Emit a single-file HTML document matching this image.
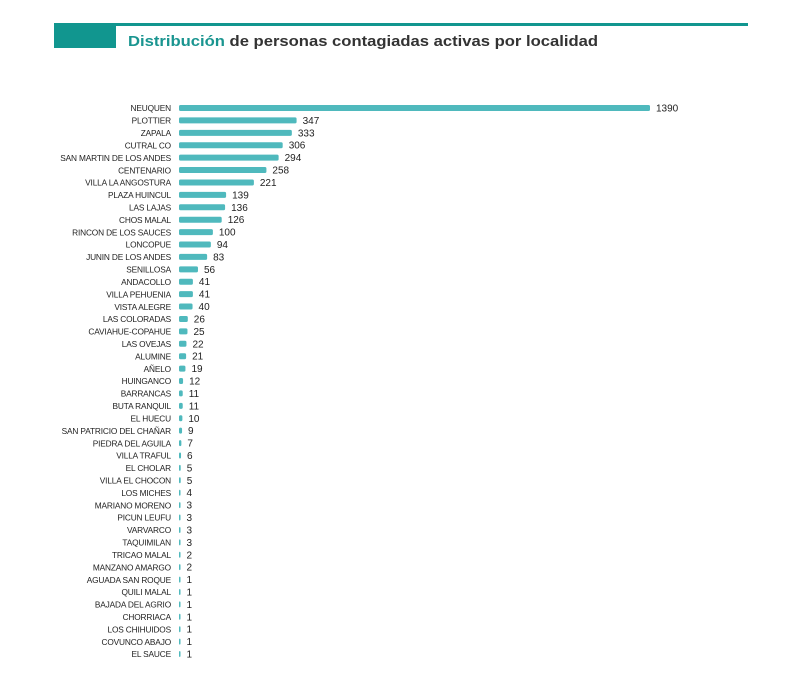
<!DOCTYPE html>
<html><head><meta charset="utf-8"><style>
body{margin:0;background:#fff;}
svg{display:block;font-family:"Liberation Sans",sans-serif;}
</style></head><body>
<svg width="805" height="697" xmlns="http://www.w3.org/2000/svg">
<rect x="54" y="23" width="62" height="25" fill="#11968f"/>
<rect x="116" y="23" width="632" height="3" fill="#11968f"/>
<text x="128" y="46" font-size="15" font-weight="bold" fill="#333" textLength="470" lengthAdjust="spacingAndGlyphs"><tspan fill="#1a9590">Distribución</tspan> de personas contagiadas activas por localidad</text>
<g id="bars" fill="#222"></g>
</svg>
<script>
var d=[["NEUQUEN",1390],["PLOTTIER",347],["ZAPALA",333],["CUTRAL CO",306],["SAN MARTIN DE LOS ANDES",294],["CENTENARIO",258],["VILLA LA ANGOSTURA",221],["PLAZA HUINCUL",139],["LAS LAJAS",136],["CHOS MALAL",126],["RINCON DE LOS SAUCES",100],["LONCOPUE",94],["JUNIN DE LOS ANDES",83],["SENILLOSA",56],["ANDACOLLO",41],["VILLA PEHUENIA",41],["VISTA ALEGRE",40],["LAS COLORADAS",26],["CAVIAHUE-COPAHUE",25],["LAS OVEJAS",22],["ALUMINE",21],["AÑELO",19],["HUINGANCO",12],["BARRANCAS",11],["BUTA RANQUIL",11],["EL HUECU",10],["SAN PATRICIO DEL CHAÑAR",9],["PIEDRA DEL AGUILA",7],["VILLA TRAFUL",6],["EL CHOLAR",5],["VILLA EL CHOCON",5],["LOS MICHES",4],["MARIANO MORENO",3],["PICUN LEUFU",3],["VARVARCO",3],["TAQUIMILAN",3],["TRICAO MALAL",2],["MANZANO AMARGO",2],["AGUADA SAN ROQUE",1],["QUILI MALAL",1],["BAJADA DEL AGRIO",1],["CHORRIACA",1],["LOS CHIHUIDOS",1],["COVUNCO ABAJO",1],["EL SAUCE",1]];
var g=document.getElementById('bars'),s='',sc=471/1390;
d.forEach(function(r,i){var y=108+i*12.41,w=Math.max(1.5,r[1]*sc);
s+='<text x="171" y="'+(y+3.2)+'" text-anchor="end" font-size="8.3" letter-spacing="-0.15">'+r[0]+'</text>';
s+='<rect x="179" y="'+(y-3)+'" width="'+w+'" height="6" rx="1.5" fill="#4fb9bd"/>';
s+='<text x="'+(179+w+6)+'" y="'+(y+3.5)+'" font-size="10">'+r[1]+'</text>';});
g.innerHTML=s;
</script>
</body></html>
